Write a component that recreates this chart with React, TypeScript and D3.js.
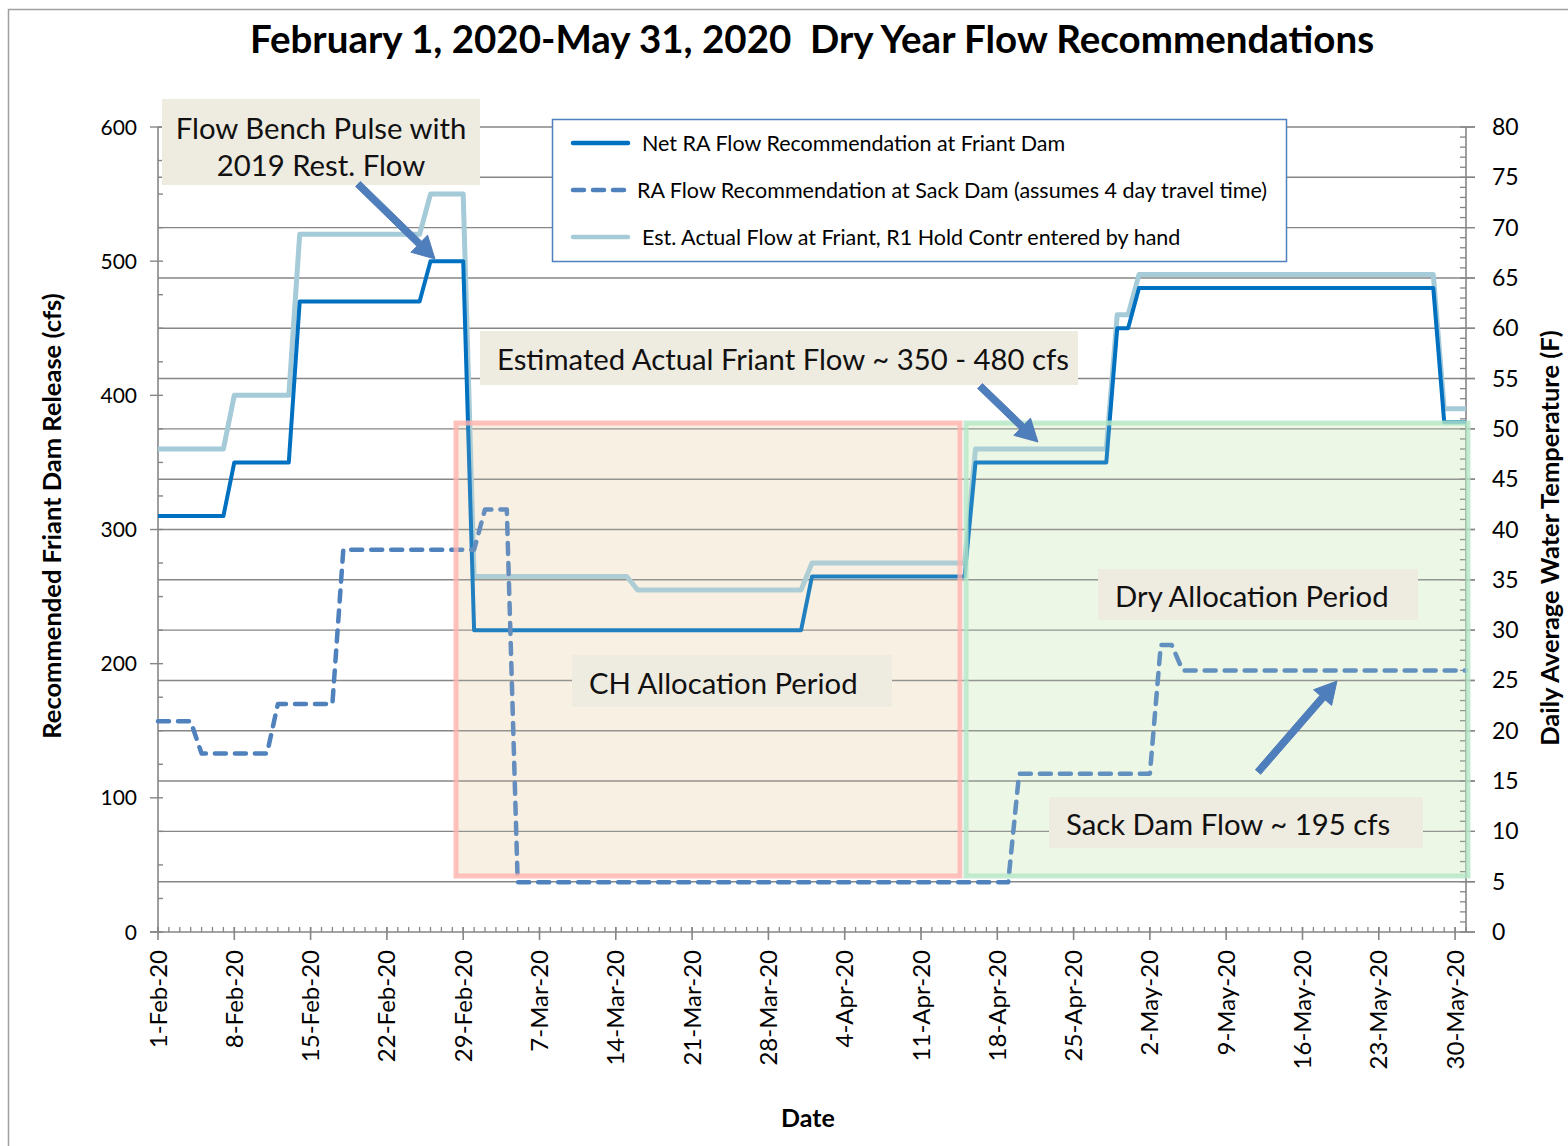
import React, { useEffect, useRef } from 'react';
import * as d3 from 'd3';

// chart values (dates where the line bends)
const netDates = ['2020-02-01', '2020-02-07', '2020-02-08', '2020-02-13', '2020-02-14', '2020-02-25', '2020-02-26', '2020-02-29', '2020-03-01', '2020-03-31', '2020-04-01', '2020-04-15', '2020-04-16', '2020-04-28', '2020-04-29', '2020-04-30', '2020-05-01', '2020-05-28', '2020-05-29', '2020-05-31'];
const netValues = [310, 310, 350, 350, 470, 470, 500, 500, 225, 225, 265, 265, 350, 350, 450, 450, 480, 480, 380, 380];

const sackDates = ['2020-02-01', '2020-02-04', '2020-02-05', '2020-02-11', '2020-02-12', '2020-02-17', '2020-02-18', '2020-03-01', '2020-03-02', '2020-03-04', '2020-03-05', '2020-04-19', '2020-04-20', '2020-05-02', '2020-05-03', '2020-05-04', '2020-05-05', '2020-05-31'];
const sackValues = [157, 157, 133, 133, 170, 170, 285, 285, 315, 315, 37, 37, 118, 118, 214, 214, 195, 195];

const actualDates = ['2020-02-01', '2020-02-07', '2020-02-08', '2020-02-13', '2020-02-14', '2020-02-25', '2020-02-26', '2020-02-29', '2020-03-01', '2020-03-15', '2020-03-16', '2020-03-31', '2020-04-01', '2020-04-15', '2020-04-16', '2020-04-28', '2020-04-29', '2020-04-30', '2020-05-01', '2020-05-28', '2020-05-29', '2020-05-31'];
const actualValues = [360, 360, 400, 400, 520, 520, 550, 550, 265, 265, 255, 255, 275, 275, 360, 360, 460, 460, 490, 490, 390, 390];

const legendLabels = [
  'Net RA Flow Recommendation at Friant Dam',
  'RA Flow Recommendation at Sack Dam (assumes 4 day travel time)',
  'Est. Actual Flow at Friant, R1 Hold Contr entered by hand',
];

const flowTicks = [0, 100, 200, 300, 400, 500, 600];
const tempTicks = [0, 5, 10, 15, 20, 25, 30, 35, 40, 45, 50, 55, 60, 65, 70, 75, 80];

const W = 1568;
const H = 1146;
const FONT = 'Lato, "Open Sans", sans-serif';

export default function App() {
  const ref = useRef(null);

  useEffect(() => {
    const parse = d3.utcParse('%Y-%m-%d');
    const start = parse('2020-02-01');
    const end = parse('2020-05-31');

    const x = d3.scaleUtc().domain([start, end]).range([158, 1466]);
    const yL = d3.scaleLinear().domain([0, 600]).range([932, 127]);
    const yR = d3.scaleLinear().domain([0, 80]).range([932, 127]);

    const svg = d3.select(ref.current);
    svg.selectAll('*').remove();

    const axisColor = '#868686';

    // chart frame
    svg.append('rect').attr('x', 8.5).attr('y', 9.5).attr('width', 1600).attr('height', 1200)
      .attr('fill', '#fff').attr('stroke', '#a0a0a0').attr('stroke-width', 1.5);

    // allocation period boxes (background part)
    const boxes = [
      { x0: 456, x1: 960, fill: '#FAF4E8', over: '#EFE2C8', stroke: '#FFB3AD' },
      { x0: 966, x1: 1468, fill: '#F0F8E9', over: '#DDEFD0', stroke: '#B3E6C6' },
    ];
    boxes.forEach(b => {
      svg.append('rect').attr('x', b.x0).attr('y', 423).attr('width', b.x1 - b.x0).attr('height', 453)
        .attr('fill', b.fill);
    });

    // gridlines from the temperature axis
    tempTicks.filter(t => t > 0).forEach(t => {
      svg.append('line').attr('x1', 158).attr('x2', 1475).attr('y1', yR(t)).attr('y2', yR(t))
        .attr('stroke', axisColor).attr('stroke-width', 1.4);
    });

    // x axis with daily minor ticks
    const y0 = yL(0);
    svg.append('line').attr('x1', 150).attr('x2', 1475).attr('y1', y0).attr('y2', y0)
      .attr('stroke', axisColor).attr('stroke-width', 1.6);
    d3.utcDay.range(start, d3.utcDay.offset(end, 1)).forEach(d => {
      svg.append('line').attr('x1', x(d)).attr('x2', x(d)).attr('y1', y0 - 5).attr('y2', y0)
        .attr('stroke', axisColor).attr('stroke-width', 1.3);
    });
    const majors = d3.utcDay.range(start, d3.utcDay.offset(end, 1), 7);
    const fmt = d3.utcFormat('%-d-%b-%y');
    majors.forEach(d => {
      svg.append('line').attr('x1', x(d)).attr('x2', x(d)).attr('y1', y0 - 5).attr('y2', y0 + 8)
        .attr('stroke', axisColor).attr('stroke-width', 1.6);
      svg.append('text')
        .attr('transform', `translate(${x(d) + 8.5},950) rotate(-90)`)
        .attr('text-anchor', 'end')
        .attr('font-family', FONT).attr('font-size', 24).attr('fill', '#000')
        .text(fmt(d));
    });

    // left axis
    svg.append('line').attr('x1', 158).attr('x2', 158).attr('y1', 127).attr('y2', y0)
      .attr('stroke', axisColor).attr('stroke-width', 1.6);
    d3.range(0, 601, 25).forEach(v => {
      const major = v % 100 === 0;
      svg.append('line').attr('x1', major ? 150 : 158).attr('x2', 163).attr('y1', yL(v)).attr('y2', yL(v))
        .attr('stroke', axisColor).attr('stroke-width', 1.4);
    });
    flowTicks.forEach(v => {
      svg.append('text').attr('x', 137).attr('y', yL(v) + 7.5).attr('text-anchor', 'end')
        .attr('font-family', FONT).attr('font-size', 21).text(v);
    });

    // right axis
    svg.append('line').attr('x1', 1466).attr('x2', 1466).attr('y1', 127).attr('y2', y0)
      .attr('stroke', axisColor).attr('stroke-width', 1.6);
    d3.range(0, 81, 1).forEach(v => {
      const major = v % 5 === 0;
      svg.append('line').attr('x1', 1460).attr('x2', major ? 1475 : 1466).attr('y1', yR(v)).attr('y2', yR(v))
        .attr('stroke', axisColor).attr('stroke-width', 1.3);
    });
    tempTicks.forEach(v => {
      svg.append('text').attr('x', 1492).attr('y', yR(v) + 8)
        .attr('font-family', FONT).attr('font-size', 23).text(v);
    });

    // series
    const toPts = (dates, values) => dates.map((d, i) => ({ date: parse(d), value: values[i] }));
    const line = d3.line().x(d => x(d.date)).y(d => yL(d.value));

    svg.append('path').attr('d', line(toPts(actualDates, actualValues)))
      .attr('fill', 'none').attr('stroke', '#A5CAD8').attr('stroke-width', 5).attr('stroke-linejoin', 'round');
    svg.append('path').attr('d', line(toPts(netDates, netValues)))
      .attr('fill', 'none').attr('stroke', '#0070C0').attr('stroke-width', 4).attr('stroke-linejoin', 'round');
    svg.append('path').attr('d', line(toPts(sackDates, sackValues)))
      .attr('fill', 'none').attr('stroke', '#4F81BD').attr('stroke-width', 4.5)
      .attr('stroke-dasharray', '11 9').attr('stroke-linecap', 'round').attr('stroke-linejoin', 'round');

    // allocation period boxes (tint over the lines + border)
    boxes.forEach(b => {
      svg.append('rect').attr('x', b.x0).attr('y', 423).attr('width', b.x1 - b.x0).attr('height', 453)
        .attr('fill', b.over).attr('fill-opacity', 0.14)
        .attr('stroke', b.stroke).attr('stroke-width', 5).attr('stroke-opacity', 0.8);
    });

    // legend
    svg.append('rect').attr('x', 552.5).attr('y', 119.5).attr('width', 734).attr('height', 142)
      .attr('fill', '#fff').attr('stroke', '#4F81BD').attr('stroke-width', 1.5);
    const legendStyles = [
      { stroke: '#0070C0', dash: null, tx: 642 },
      { stroke: '#4F81BD', dash: '11 9', tx: 637 },
      { stroke: '#A5CAD8', dash: null, tx: 642 },
    ];
    legendLabels.forEach((lab, i) => {
      const ly = 143 + i * 47;
      const s = legendStyles[i];
      svg.append('line').attr('x1', 573).attr('x2', 628).attr('y1', ly).attr('y2', ly)
        .attr('stroke', s.stroke).attr('stroke-width', 4.5).attr('stroke-linecap', 'round')
        .attr('stroke-dasharray', s.dash);
      svg.append('text').attr('x', s.tx).attr('y', ly + 7.5)
        .attr('font-family', FONT).attr('font-size', 21.5).text(lab);
    });

    // annotation boxes
    const notes = [
      { x: 162, y: 99, w: 318, h: 86, lines: ['Flow Bench Pulse with', '2019 Rest. Flow'], anchor: 'middle', tx: 321, ty: 139 },
      { x: 480, y: 331, w: 598, h: 54, lines: ['Estimated Actual Friant Flow ~ 350 - 480 cfs'], anchor: 'start', tx: 497, ty: 370 },
      { x: 1098, y: 569, w: 320, h: 51, lines: ['Dry Allocation Period'], anchor: 'start', tx: 1115, ty: 607 },
      { x: 572, y: 655, w: 320, h: 52, lines: ['CH Allocation Period'], anchor: 'start', tx: 589, ty: 694 },
      { x: 1049, y: 797, w: 374, h: 51, lines: ['Sack Dam Flow ~ 195 cfs'], anchor: 'start', tx: 1066, ty: 835 },
    ];
    notes.forEach(n => {
      svg.append('rect').attr('x', n.x).attr('y', n.y).attr('width', n.w).attr('height', n.h).attr('fill', '#EEEBE0');
      n.lines.forEach((t, i) => {
        svg.append('text').attr('x', n.tx).attr('y', n.ty + i * 37).attr('text-anchor', n.anchor)
          .attr('font-family', FONT).attr('font-size', 29.3).attr('fill', '#111').text(t);
      });
    });

    // arrows
    const arrows = [
      [[358, 184], [435, 259]],
      [[980, 386], [1038, 442]],
      [[1258, 772], [1337, 681]],
    ];
    arrows.forEach(([[ax, ay], [bx, by]]) => {
      const ang = Math.atan2(by - ay, bx - ax);
      const len = Math.hypot(bx - ax, by - ay);
      const g = svg.append('g').attr('transform', `translate(${ax},${ay}) rotate(${(ang * 180) / Math.PI})`);
      g.append('path')
        .attr('d', `M0,-3.5 L${len - 22},-3.5 L${len - 22},-12 L${len},0 L${len - 22},12 L${len - 22},3.5 L0,3.5 Z`)
        .attr('fill', '#4F7EBD').attr('stroke', '#4A77B4').attr('stroke-width', 0.8);
    });

    // titles
    svg.append('text').attr('x', 812).attr('y', 53).attr('text-anchor', 'middle')
      .attr('font-family', FONT).attr('font-weight', 'bold').attr('font-size', 38.5)
      .style('white-space', 'pre')
      .text('February 1, 2020-May 31, 2020  Dry Year Flow Recommendations');
    svg.append('text').attr('transform', 'translate(61,516) rotate(-90)').attr('text-anchor', 'middle')
      .attr('font-family', FONT).attr('font-weight', 'bold').attr('font-size', 25.5)
      .text('Recommended Friant Dam Release (cfs)');
    svg.append('text').attr('transform', 'translate(1559,538) rotate(-90)').attr('text-anchor', 'middle')
      .attr('font-family', FONT).attr('font-weight', 'bold').attr('font-size', 25.5)
      .text('Daily Average Water Temperature (F)');
    svg.append('text').attr('x', 808).attr('y', 1127).attr('text-anchor', 'middle')
      .attr('font-family', FONT).attr('font-weight', 'bold').attr('font-size', 25)
      .text('Date');
  }, []);

  return (
    <svg
      ref={ref}
      width={W}
      height={H}
      viewBox={`0 0 ${W} ${H}`}
      style={{ position: 'absolute', left: 0, top: 0, background: '#fff' }}
    />
  );
}
